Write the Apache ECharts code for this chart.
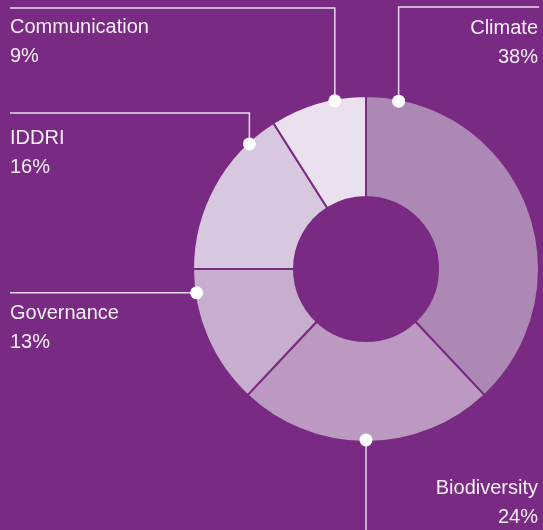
<!DOCTYPE html>
<html>
<head>
<meta charset="utf-8">
<script src="https://cdn.jsdelivr.net/npm/echarts@6/dist/echarts.min.js"></script>
<style>
  html, body { margin: 0; padding: 0; background: #792a82; }
  #pieChart { width: 543px; height: 530px; }
</style>
</head>
<body>
<div id="pieChart"></div>
<script>
// data (clockwise from top)
var categories = ['Climate', 'Biodiversity', 'Governance', 'IDDRI', 'Communication'];
var shares = [38, 24, 13, 16, 9];
var sliceColors = ['#ae88b5', '#bc99c1', '#c7aece', '#d7c7df', '#ebe0ee'];

// where the leader line leaves the ring (degrees clockwise from top)
var anchorAngles = [11, 180, 262, 317, 349.5];

var center = [366, 269];
var outerR = 173;
var dotR = 171;

// label placement
var labelSpots = [
    {x: 538, y: 14, align: 'right', bend: 'up', lineY: 7, lineX: 539},
    {x: 538, y: 474, align: 'right', bend: 'down', lineY: 530},
    {x: 10, y: 299, align: 'left', bend: 'flat', lineX: 10},
    {x: 10, y: 124, align: 'left', bend: 'up', lineY: 113, lineX: 10},
    {x: 10, y: 13, align: 'left', bend: 'up', lineY: 8, lineX: 10}
];

function anchorPoint(i) {
    var a = anchorAngles[i] * Math.PI / 180;
    return [center[0] + dotR * Math.sin(a), center[1] - dotR * Math.cos(a)];
}

var dom = document.getElementById('pieChart');
var myChart = echarts.init(dom);
var option = {
    backgroundColor: '#792a82',
    animation: false,
    polar: {
        center: center,
        radius: dotR
    },
    angleAxis: {
        type: 'value', min: 0, max: 360, startAngle: 90, clockwise: true, show: false
    },
    radiusAxis: {
        type: 'value', min: 0, max: 1, show: false
    },
    series: [
        {
            type: 'pie',
            center: center,
            radius: [72, outerR],
            startAngle: 90,
            clockwise: true,
            avoidLabelOverlap: false,
            emphasis: {disabled: true},
            itemStyle: {
                borderColor: '#792a82',
                borderWidth: 2
            },
            label: {
                show: true,
                position: 'outside',
                formatter: '{b}\n{c}%',
                color: '#f4eef5',
                fontFamily: "'Liberation Sans Narrow', 'Arial Narrow', 'Liberation Sans', sans-serif",
                fontSize: 20,
                lineHeight: 29
            },
            labelLine: {
                show: true,
                lineStyle: {color: '#e6dbe9', width: 1.5}
            },
            labelLayout: function (params) {
                var i = params.dataIndex;
                var s = labelSpots[i];
                var p = anchorPoint(i);
                var pts;
                if (s.bend === 'up') {
                    pts = [p, [p[0], s.lineY], [s.lineX, s.lineY]];
                } else if (s.bend === 'down') {
                    pts = [p, [p[0], s.lineY], [p[0], s.lineY]];
                } else {
                    pts = [p, [s.lineX, p[1]], [s.lineX, p[1]]];
                }
                return {
                    x: s.x,
                    y: s.y,
                    align: s.align,
                    verticalAlign: 'top',
                    labelLinePoints: pts
                };
            },
            data: categories.map(function (name, i) {
                return {name: name, value: shares[i], itemStyle: {color: sliceColors[i]}};
            })
        },
        {
            type: 'scatter',
            coordinateSystem: 'polar',
            symbol: 'circle',
            symbolSize: 13,
            z: 5,
            silent: true,
            itemStyle: {color: '#ffffff', opacity: 1},
            data: anchorAngles.map(function (a) { return [1, a]; })
        }
    ]
};
myChart.setOption(option, true);

window.onresize = function () {
    myChart.resize();
};
</script>
</body>
</html>
